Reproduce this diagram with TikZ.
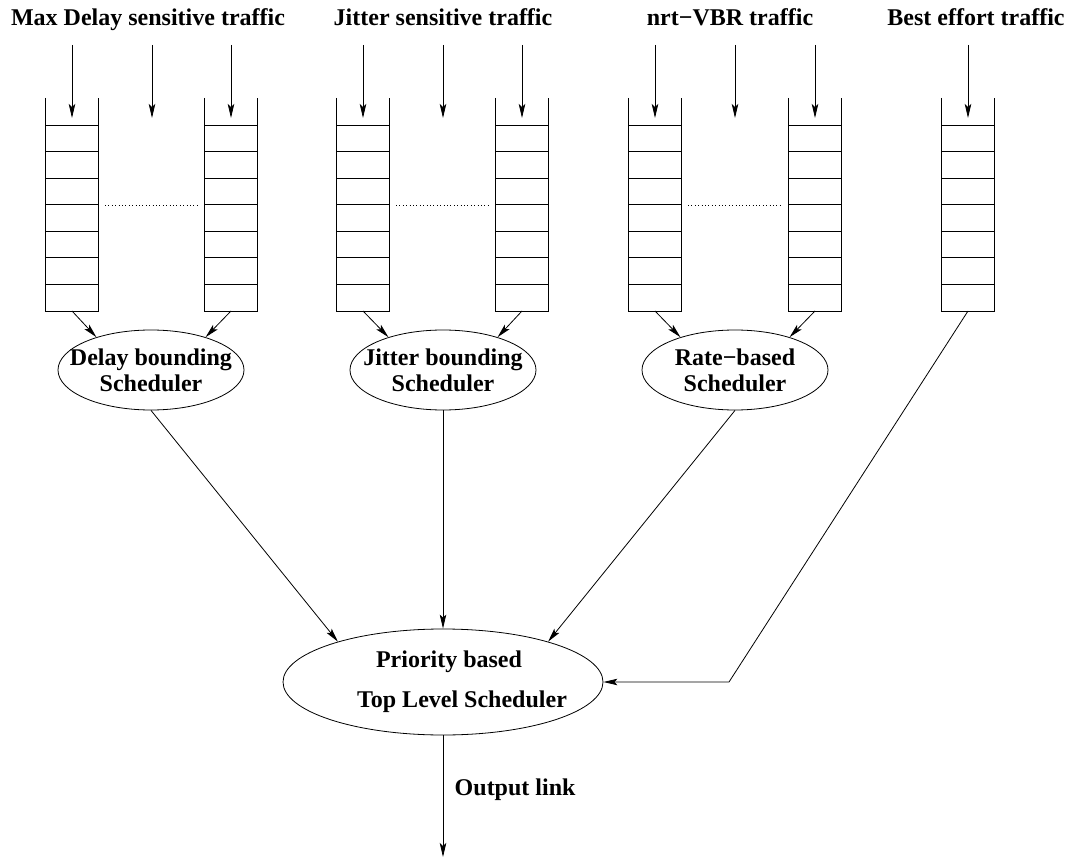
\documentclass[tikz,border=0pt]{standalone}
\usepackage{fontspec}
\setmainfont{Liberation Serif}
\usetikzlibrary{shapes,arrows.meta}

\tikzset{
  feed/.style={-{Stealth[length=14pt,width=6.5pt,inset=3pt]}},
  sched/.style={ellipse, draw, minimum width=186pt, minimum height=80pt, inner sep=0pt, align=center},
  gapdots/.style={line width=0.8pt, dash pattern=on 0.8pt off 2.6pt},
}

% one queue: #1 = centre x, #2 = name
\newcommand{\fifo}[2]{%
  \draw (#1-26.5,98) -- (#1-26.5,311) -- (#1+26.5,311) -- (#1+26.5,98);
  \foreach \k in {0,...,6}
    \draw (#1-26.5,125+26.57*\k) -- (#1+26.5,125+26.57*\k);
  \coordinate (#2-in) at (#1,45);
  \coordinate (#2-head) at (#1,118);
  \coordinate (#2-out) at (#1,311);
  \draw[feed] (#2-in) -- (#2-head);
}

% the gap between two queues of a class
\newcommand{\queuegap}[2]{%
  \coordinate (#2-in) at (#1,45);
  \coordinate (#2-head) at (#1,118);
  \draw[feed] (#2-in) -- (#2-head);
  \draw[gapdots] (#1-47,205) -- (#1+45,205);
}

% text line that does not widen its ellipse
\newcommand{\tline}[1]{\makebox[80pt]{#1}}

\begin{document}
\begin{tikzpicture}[x=1pt, y=-1pt, line width=0.8pt,
    every node/.style={font=\bfseries\fontsize{24}{26}\selectfont}]
\useasboundingbox (0,0) rectangle (1073,858);

% traffic classes
\node[anchor=base] (hdelay) at (148,26) {Max Delay sensitive traffic};
\node[anchor=base] (hjitter) at (443,26) {Jitter sensitive traffic};
\node[anchor=base] (hrate) at (730,26) {nrt−VBR traffic};
\node[anchor=base] (hbest) at (976,26) {Best effort traffic};

% queues
\fifo{72}{d1}  \queuegap{152}{dm}  \fifo{231}{d2}
\fifo{363}{j1} \queuegap{443}{jm}  \fifo{522}{j2}
\fifo{655}{r1} \queuegap{735}{rm}  \fifo{815}{r2}
\fifo{968}{be}

% per class schedulers
\node[sched] (delay) at (151,370) {\tline{Delay bounding}\\\tline{Scheduler}};
\node[sched] (jitter) at (443,370) {\tline{Jitter bounding}\\\tline{Scheduler}};
\node[sched] (rate) at (735,370) {\tline{Rate−based}\\\tline{Scheduler}};

\node[ellipse, draw, minimum width=320pt, minimum height=106pt, inner sep=0pt, align=center]
  (top) at (443,682) {\tline{\hspace*{12pt}Priority based}\\[14pt]\tline{\hspace*{38pt}Top Level Scheduler}};

\draw[feed] (d1-out) -- (delay.149);
\draw[feed] (d2-out) -- (delay.31);
\draw[feed] (j1-out) -- (jitter.149);
\draw[feed] (j2-out) -- (jitter.31);
\draw[feed] (r1-out) -- (rate.149);
\draw[feed] (r2-out) -- (rate.31);

\draw[feed] (delay.south) -- (top.159);
\draw[feed] (jitter.south) -- (top.north);
\draw[feed] (rate.south) -- (top.21);
\coordinate (bend) at (729,682);
\draw[feed] (be-out) -- (bend) -- (top.east);

% output
\coordinate (link) at (443,857);
\draw[feed] (top.south) -- (link);
\node[anchor=base west] (outlbl) at (451,795) {Output link};
\end{tikzpicture}
\end{document}
